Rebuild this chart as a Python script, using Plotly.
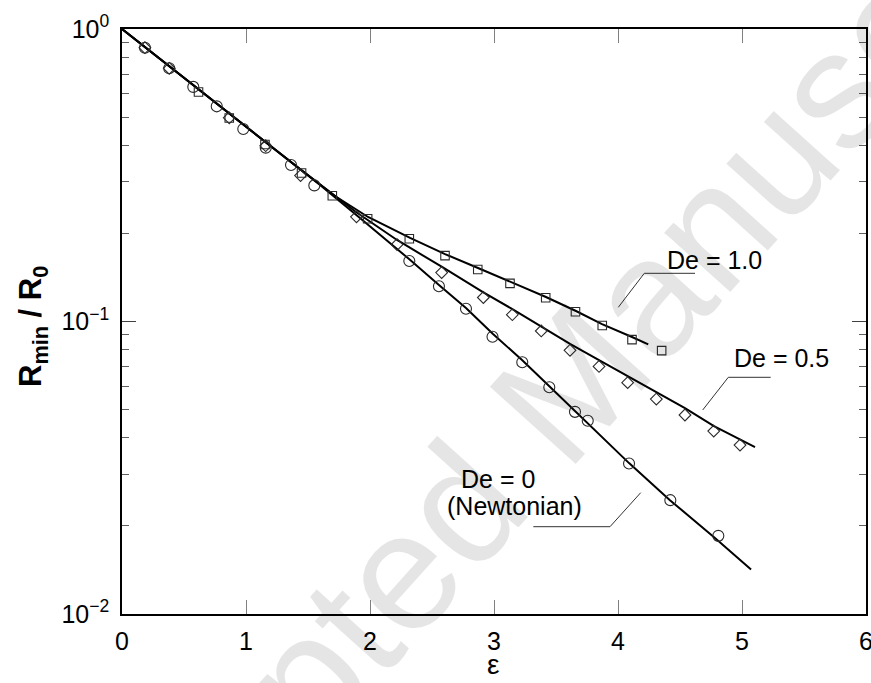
import plotly.graph_objects as go

# ---------------- data ----------------
# Symbols: simulation points
eps_de0 = [0.185, 0.381, 0.575, 0.764, 0.978, 1.159, 1.363, 1.551, 2.317, 2.556,
           2.774, 2.988, 3.228, 3.446, 3.653, 3.756, 4.089, 4.422, 4.809]
r_de0 = [0.863, 0.734, 0.634, 0.544, 0.455, 0.393, 0.343, 0.292, 0.161, 0.132,
         0.1106, 0.0887, 0.0726, 0.0596, 0.0491, 0.0458, 0.0327, 0.0245, 0.0185]

eps_de05 = [0.185, 0.381, 0.865, 1.159, 1.440, 1.891, 2.218, 2.578, 2.914, 3.148,
            3.381, 3.613, 3.847, 4.078, 4.309, 4.540, 4.772, 4.984]
r_de05 = [0.863, 0.734, 0.497, 0.399, 0.3155, 0.228, 0.1833, 0.147, 0.1208, 0.1055,
          0.0928, 0.0797, 0.0702, 0.0618, 0.0543, 0.0479, 0.0422, 0.0378]

eps_de1 = [0.617, 0.865, 1.153, 1.448, 1.696, 1.981, 2.317, 2.605, 2.869, 3.129,
           3.417, 3.657, 3.873, 4.113, 4.352]
r_de1 = [0.609, 0.496, 0.403, 0.322, 0.269, 0.2246, 0.1919, 0.168, 0.1506, 0.135,
         0.1206, 0.108, 0.0969, 0.0867, 0.0795]

# Solid curves: theory
line_eps_de0 = [0.0, 0.629, 1.153, 1.597, 1.919, 2.315, 2.556, 2.774, 2.992, 3.226,
                3.444, 3.653, 4.089, 4.419, 4.782, 5.073]
line_r_de0 = [1.0, 0.616, 0.412, 0.293, 0.2259, 0.1635, 0.1332, 0.1112, 0.0907, 0.0738,
              0.0602, 0.0494, 0.0328, 0.0245, 0.0182, 0.0142]

line_eps_de05 = [0.0, 0.629, 1.153, 1.435, 1.887, 2.218, 2.581, 2.911, 3.145, 3.379,
                 3.613, 3.847, 4.081, 4.306, 4.540, 4.774, 5.105]
line_r_de05 = [1.0, 0.616, 0.412, 0.332, 0.2368, 0.190, 0.1536, 0.1261, 0.1104, 0.0965,
               0.0838, 0.0738, 0.0651, 0.0574, 0.0506, 0.0439, 0.0372]

line_eps_de1 = [0.0, 0.629, 1.153, 1.435, 1.718, 1.984, 2.323, 2.605, 2.871, 3.129,
                3.419, 3.661, 3.871, 4.113, 4.244]
line_r_de1 = [1.0, 0.616, 0.412, 0.332, 0.2686, 0.2277, 0.193, 0.170, 0.1524, 0.1365,
              0.1213, 0.1086, 0.098, 0.0885, 0.0835]

y_tickvals = [0.01, 0.1, 1.0]
y_ticktext = ["10<sup>\u22122</sup>", "10<sup>\u22121</sup>", "10<sup>0</sup>"]
y_minor = [m * 10.0 ** e for e in (-2, -1) for m in range(2, 10)]

# ---------------- layout geometry (pixels) ----------------
W, H = 871, 683
L, R, T, B = 122, 866, 29, 614


def px(x):
    return (x - L) / (R - L)


def py(y):
    return (B - y) / (B - T)


FONT = "Arial, Liberation Sans, Helvetica, sans-serif"
MK = "#2a2a2a"

fig = go.Figure()

# theory curves
for lx, ly in [(line_eps_de0, line_r_de0), (line_eps_de05, line_r_de05), (line_eps_de1, line_r_de1)]:
    fig.add_trace(go.Scatter(x=lx, y=ly, mode="lines",
                             line=dict(color="black", width=2), showlegend=False))

# symbols
fig.add_trace(go.Scatter(x=eps_de0, y=r_de0, mode="markers", showlegend=False,
                         marker=dict(symbol="circle-open", size=11, color=MK, line=dict(width=1.1, color=MK))))
fig.add_trace(go.Scatter(x=eps_de05, y=r_de05, mode="markers", showlegend=False,
                         marker=dict(symbol="diamond-open", size=9, color=MK, line=dict(width=1.1, color=MK))))
fig.add_trace(go.Scatter(x=eps_de1, y=r_de1, mode="markers", showlegend=False,
                         marker=dict(symbol="square-open", size=8.5, color=MK, line=dict(width=1.1, color=MK))))

annotations = []
# watermark (semi-transparent so black lines stay black)
annotations.append(dict(xref="paper", yref="paper", x=px(548), y=py(408), text="Accepted Manuscript",
                        showarrow=False, textangle=-48, xanchor="center", yanchor="middle",
                        font=dict(family=FONT, size=168, color="rgba(0,0,0,0.10)")))

# curve labels
lab = dict(showarrow=False, xref="paper", yref="paper", xanchor="center", yanchor="middle")
LF = dict(family=FONT, size=25, color="black")
annotations += [
    dict(lab, x=px(714), y=py(260), text="De = 1.0", font=LF),
    dict(lab, x=px(781), y=py(358), text="De = 0.5", font=LF),
    dict(lab, x=px(497.5), y=py(479), text="De = 0", font=LF),
    dict(lab, x=px(514.5), y=py(506), text="(Newtonian)", font=LF),
]
# axis titles
annotations += [
    dict(lab, x=px(493), y=py(664), text="\u03b5", font=dict(family=FONT, size=28, color="black")),
    dict(lab, x=px(33), y=py(327), text="<b>R<sub>min</sub> / R<sub>0</sub></b>", textangle=-90,
         font=dict(family=FONT, size=31, color="black")),
]

shapes = []
leaders = [
    [(644.3, 273.3), (695, 273.3)], [(644.3, 273.3), (618.3, 307.3)],
    [(728.3, 377.3), (770.7, 377.3)], [(728.3, 377.3), (702.7, 410)],
    [(533.3, 526.7), (610, 526.7)], [(610, 526.7), (640.7, 492.7)],
]
for (x0, y0), (x1, y1) in leaders:
    shapes.append(dict(type="line", xref="paper", yref="paper", x0=px(x0), y0=py(y0), x1=px(x1), y1=py(y1),
                       line=dict(color="#333333", width=1)))

fig.update_layout(
    width=W, height=H,
    margin=dict(l=L, r=W - R, t=T, b=H - B, pad=0, autoexpand=False),
    paper_bgcolor="white", plot_bgcolor="white",
    font=dict(family=FONT, size=25, color="black"),
    annotations=annotations, shapes=shapes,
    showlegend=False,
)
fig.update_xaxes(range=[0, 6], dtick=1, tick0=0, showgrid=False, zeroline=False, automargin=False,
                 showline=True, linecolor="black", linewidth=1.6, mirror="ticks",
                 ticks="inside", ticklen=14, tickwidth=1.3, tickcolor="#808080",
                 ticklabeloverflow="allow",
                 tickfont=dict(family=FONT, size=25, color="black"), ticklabelstandoff=4)
fig.update_yaxes(type="log", range=[-2, 0], tickvals=y_tickvals, ticktext=y_ticktext,
                 showgrid=False, zeroline=False, automargin=False,
                 showline=True, linecolor="black", linewidth=1.6, mirror="ticks",
                 ticks="inside", ticklen=14, tickwidth=1.3, tickcolor="#404040",
                 ticklabeloverflow="allow",
                 tickfont=dict(family=FONT, size=25, color="black"), ticklabelstandoff=6,
                 minor=dict(tickvals=y_minor, ticks="inside", ticklen=7, tickwidth=1.1, tickcolor="#606060"))

fig.write_html("out.html")
